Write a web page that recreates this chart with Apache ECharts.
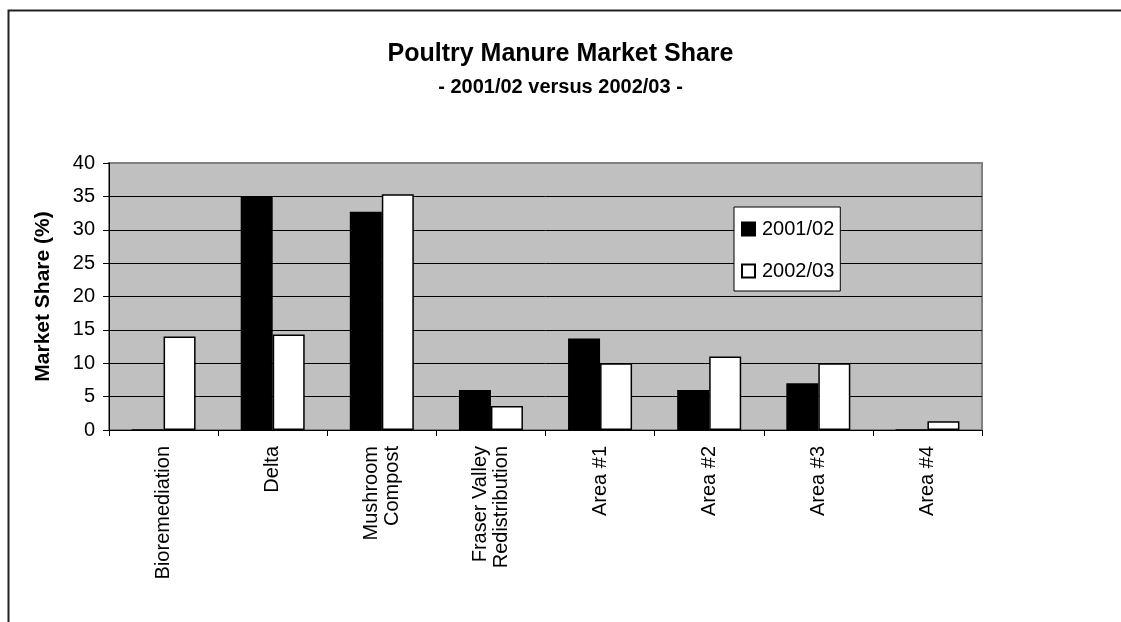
<!DOCTYPE html>
<html>
<head>
<meta charset="UTF-8">
<title>Poultry Manure Market Share</title>
<script src="https://cdn.jsdelivr.net/npm/echarts@6/dist/echarts.min.js"></script>
<style>
  html, body { margin: 0; padding: 0; background: #fff; }
  #main { width: 1121px; height: 622px; }
</style>
</head>
<body>
<div id="main"></div>
<script>
var categories = ['Bioremediation', 'Delta', 'Mushroom\nCompost', 'Fraser Valley\nRedistribution',
                  'Area #1', 'Area #2', 'Area #3', 'Area #4'];
var seriesNames = ['2001/02', '2002/03'];
var share0102 = [0, 35, 32.7, 6, 13.7, 6, 7, 0];
var share0203 = [14, 14.3, 35.3, 3.6, 10, 11, 10, 1.3];
var yTicks = [0, 5, 10, 15, 20, 25, 30, 35, 40];

var font = 'Arial, "Liberation Sans", sans-serif';
var chart = echarts.init(document.getElementById('main'));

// grid lines black, the top one (40) is the plot border, gray
var splitColors = yTicks.map(function (v, i) { return i == yTicks.length - 1 ? '#808080' : '#000'; });

var option = {
  animation: false,
  backgroundColor: '#fff',
  textStyle: { fontFamily: font, color: '#000' },
  title: [
    { text: 'Poultry Manure Market Share', left: 'center', top: 37,
      textStyle: { fontFamily: font, fontSize: 25, fontWeight: 'bold', color: '#000' } },
    { text: '- 2001/02 versus 2002/03 -', left: 'center', top: 72,
      textStyle: { fontFamily: font, fontSize: 20, fontWeight: 'bold', color: '#000' } }
  ],
  graphic: [
    { type: 'rect', left: 6, top: 8, shape: { width: 1140, height: 640 },
      style: { fill: 'none', stroke: '#222', lineWidth: 2 }, silent: true }
  ],
  legend: {
    orient: 'vertical',
    left: 734, top: 207,
    padding: [12, 6, 10, 7],
    itemGap: 22,
    itemWidth: 13, itemHeight: 13,
    icon: 'rect',
    backgroundColor: '#fff',
    borderColor: '#000',
    borderWidth: 1,
    textStyle: { fontFamily: font, fontSize: 20, color: '#000', padding: [0, 0, 0, 2] },
    data: seriesNames
  },
  grid: {
    left: 109, right: 139, top: 163, bottom: 192,
    show: true,
    backgroundColor: '#c0c0c0',
    borderColor: '#808080',
    borderWidth: 2
  },
  xAxis: {
    type: 'category',
    data: categories,
    axisLine: { lineStyle: { color: '#000', width: 1 } },
    axisTick: { show: true, length: 6, alignWithLabel: false, lineStyle: { color: '#000' } },
    axisLabel: {
      interval: 0, rotate: 90, margin: 16,
      fontFamily: font, fontSize: 20, color: '#000', lineHeight: 21
    }
  },
  yAxis: {
    type: 'value',
    min: 0, max: 40, interval: 5,
    name: 'Market Share (%)',
    nameLocation: 'middle',
    nameGap: 55,
    nameTextStyle: { fontFamily: font, fontSize: 21, fontWeight: 'bold', color: '#000' },
    axisLine: { show: true, lineStyle: { color: '#000', width: 1 } },
    axisTick: { show: true, length: 6, lineStyle: { color: '#000' } },
    axisLabel: { fontFamily: font, fontSize: 20, color: '#000', margin: 14 },
    splitLine: { show: true, lineStyle: { color: splitColors, width: 1 } }
  },
  series: [
    {
      name: seriesNames[0], type: 'bar', data: share0102,
      barWidth: 32, barGap: '0%',
      itemStyle: { color: '#000', borderColor: '#000', borderWidth: 1.5 }
    },
    {
      name: seriesNames[1], type: 'bar', data: share0203,
      barWidth: 32, barGap: '0%',
      itemStyle: { color: '#fff', borderColor: '#000', borderWidth: 1.5 }
    }
  ]
};
chart.setOption(option);
</script>
</body>
</html>
